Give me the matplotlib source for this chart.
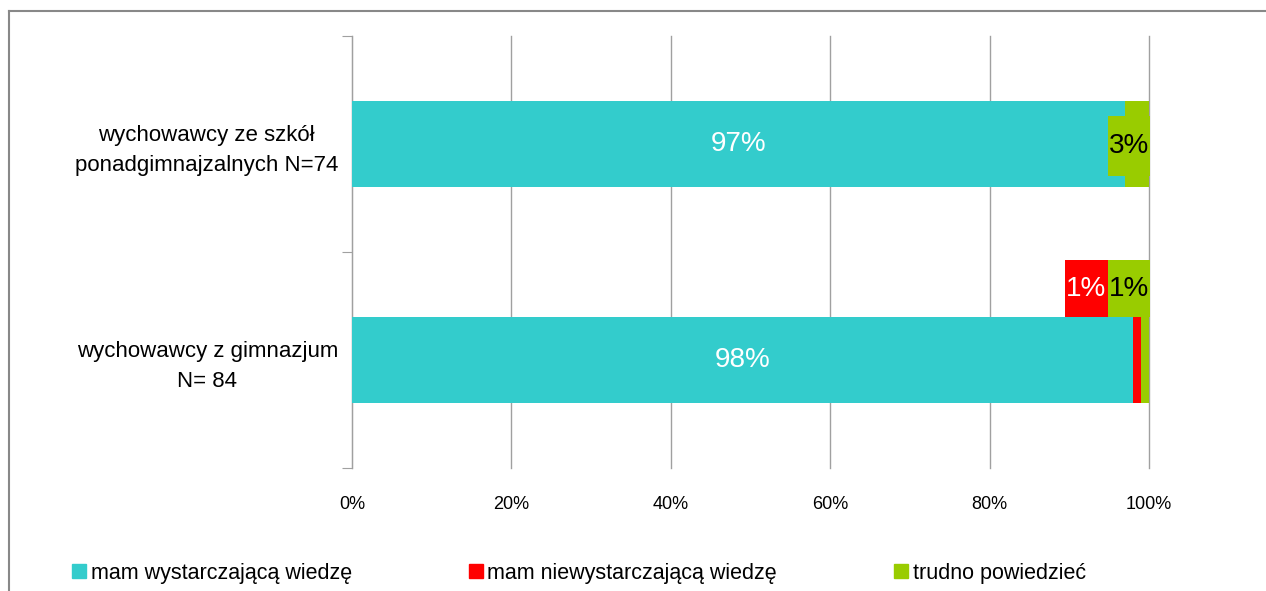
import matplotlib
matplotlib.use("Agg")
from matplotlib import pyplot
from matplotlib.patches import Patch, Rectangle
from matplotlib.lines import Line2D
import numpy as np

pyplot.rcParams["font.family"] = ["Liberation Sans", "DejaVu Sans"]

categories = ["wychowawcy z gimnazjum\nN= 84",
              "wychowawcy ze szkół\nponadgimnajzalnych N=74"]
enough = np.array([98, 97])
not_enough = np.array([1, 0])
hard_to_say = np.array([1, 3])
series_names = ["mam wystarczającą wiedzę", "mam niewystarczającą wiedzę",
                "trudno powiedzieć"]
xticks = [0, 20, 40, 60, 80, 100]

c_cyan = "#33CCCC"
c_red = "#FF0000"
c_green = "#99CC00"

fig = pyplot.figure(figsize=(12.66, 5.91), dpi=100)
ax = fig.add_axes([352 / 1266, 1 - 468 / 591, 797 / 1266, 432 / 591])

y = np.arange(len(categories))
h = 0.40
ax.barh(y, enough, height=h, color=c_cyan, zorder=3)
ax.barh(y, not_enough, left=enough, height=h, color=c_red, zorder=3)
ax.barh(y, hard_to_say, left=enough + not_enough, height=h, color=c_green, zorder=3)

# data labels inside the big segments
for i in range(len(categories)):
    ax.text(enough[i] / 2, y[i], "%d%%" % enough[i], color="white",
            fontsize=20, ha="center", va="center", zorder=5)


# small segments get labels on a coloured box, pushed to the right end
def box_label(x0, yc, w, hgt, text, fc, tc):
    ax.add_patch(Rectangle((x0, yc - hgt / 2), w, hgt, facecolor=fc, edgecolor="none",
                           zorder=4, clip_on=False))
    ax.text(x0 + w / 2, yc, text, color=tc, fontsize=20, ha="center", va="center", zorder=5)


lw = 5.3
box_label(100.1 - lw, 0.99, lw, 0.28, "%d%%" % hard_to_say[1], c_green, "black")
box_label(100.1 - lw, 0.331, lw, 0.264, "%d%%" % hard_to_say[0], c_green, "black")
box_label(100.1 - 2 * lw, 0.331, lw, 0.264, "%d%%" % not_enough[0], c_red, "white")

ax.set_xlim(0, 100)
ax.set_ylim(-0.5, 1.5)
ax.set_xticks(xticks)
ax.set_xticklabels(["%d%%" % t for t in xticks], fontsize=13)
ax.tick_params(axis="x", length=0, pad=20)
ax.set_yticks([-0.5, 0.5, 1.5])
ax.set_yticklabels([])
ax.set_yticks(y, minor=True)
ax.set_yticklabels(categories, minor=True, fontsize=16, multialignment="center",
                   linespacing=1.55)
ax.tick_params(axis="y", which="major", length=7, color="#A0A0A0", direction="out")
ax.tick_params(axis="y", which="minor", length=0, pad=10)
ax.xaxis.grid(True, color="#A0A0A0", linewidth=1, zorder=0)
for gl in ax.get_xgridlines():
    gl.set_clip_on(False)
for s in ["top", "right", "bottom"]:
    ax.spines[s].set_visible(False)
ax.spines["left"].set_color("#A0A0A0")

handles = [Patch(color=c_cyan), Patch(color=c_red), Patch(color=c_green)]
fig.legend(handles, series_names, loc="center left", bbox_to_anchor=(53 / 1266, 1 - 573 / 591),
           ncol=3, frameon=False, fontsize=15.5, handlelength=0.65, handleheight=0.65,
           handletextpad=0.2, columnspacing=5.45)

# outer frame (top and left only)
fig.add_artist(Line2D([8.5 / 1266, 8.5 / 1266], [0, 1 - 10.5 / 591], color="#888888", linewidth=1.5))
fig.add_artist(Line2D([8.5 / 1266, 1], [1 - 10.5 / 591, 1 - 10.5 / 591], color="#888888", linewidth=1.5))

fig.savefig("out.png", dpi=100)
